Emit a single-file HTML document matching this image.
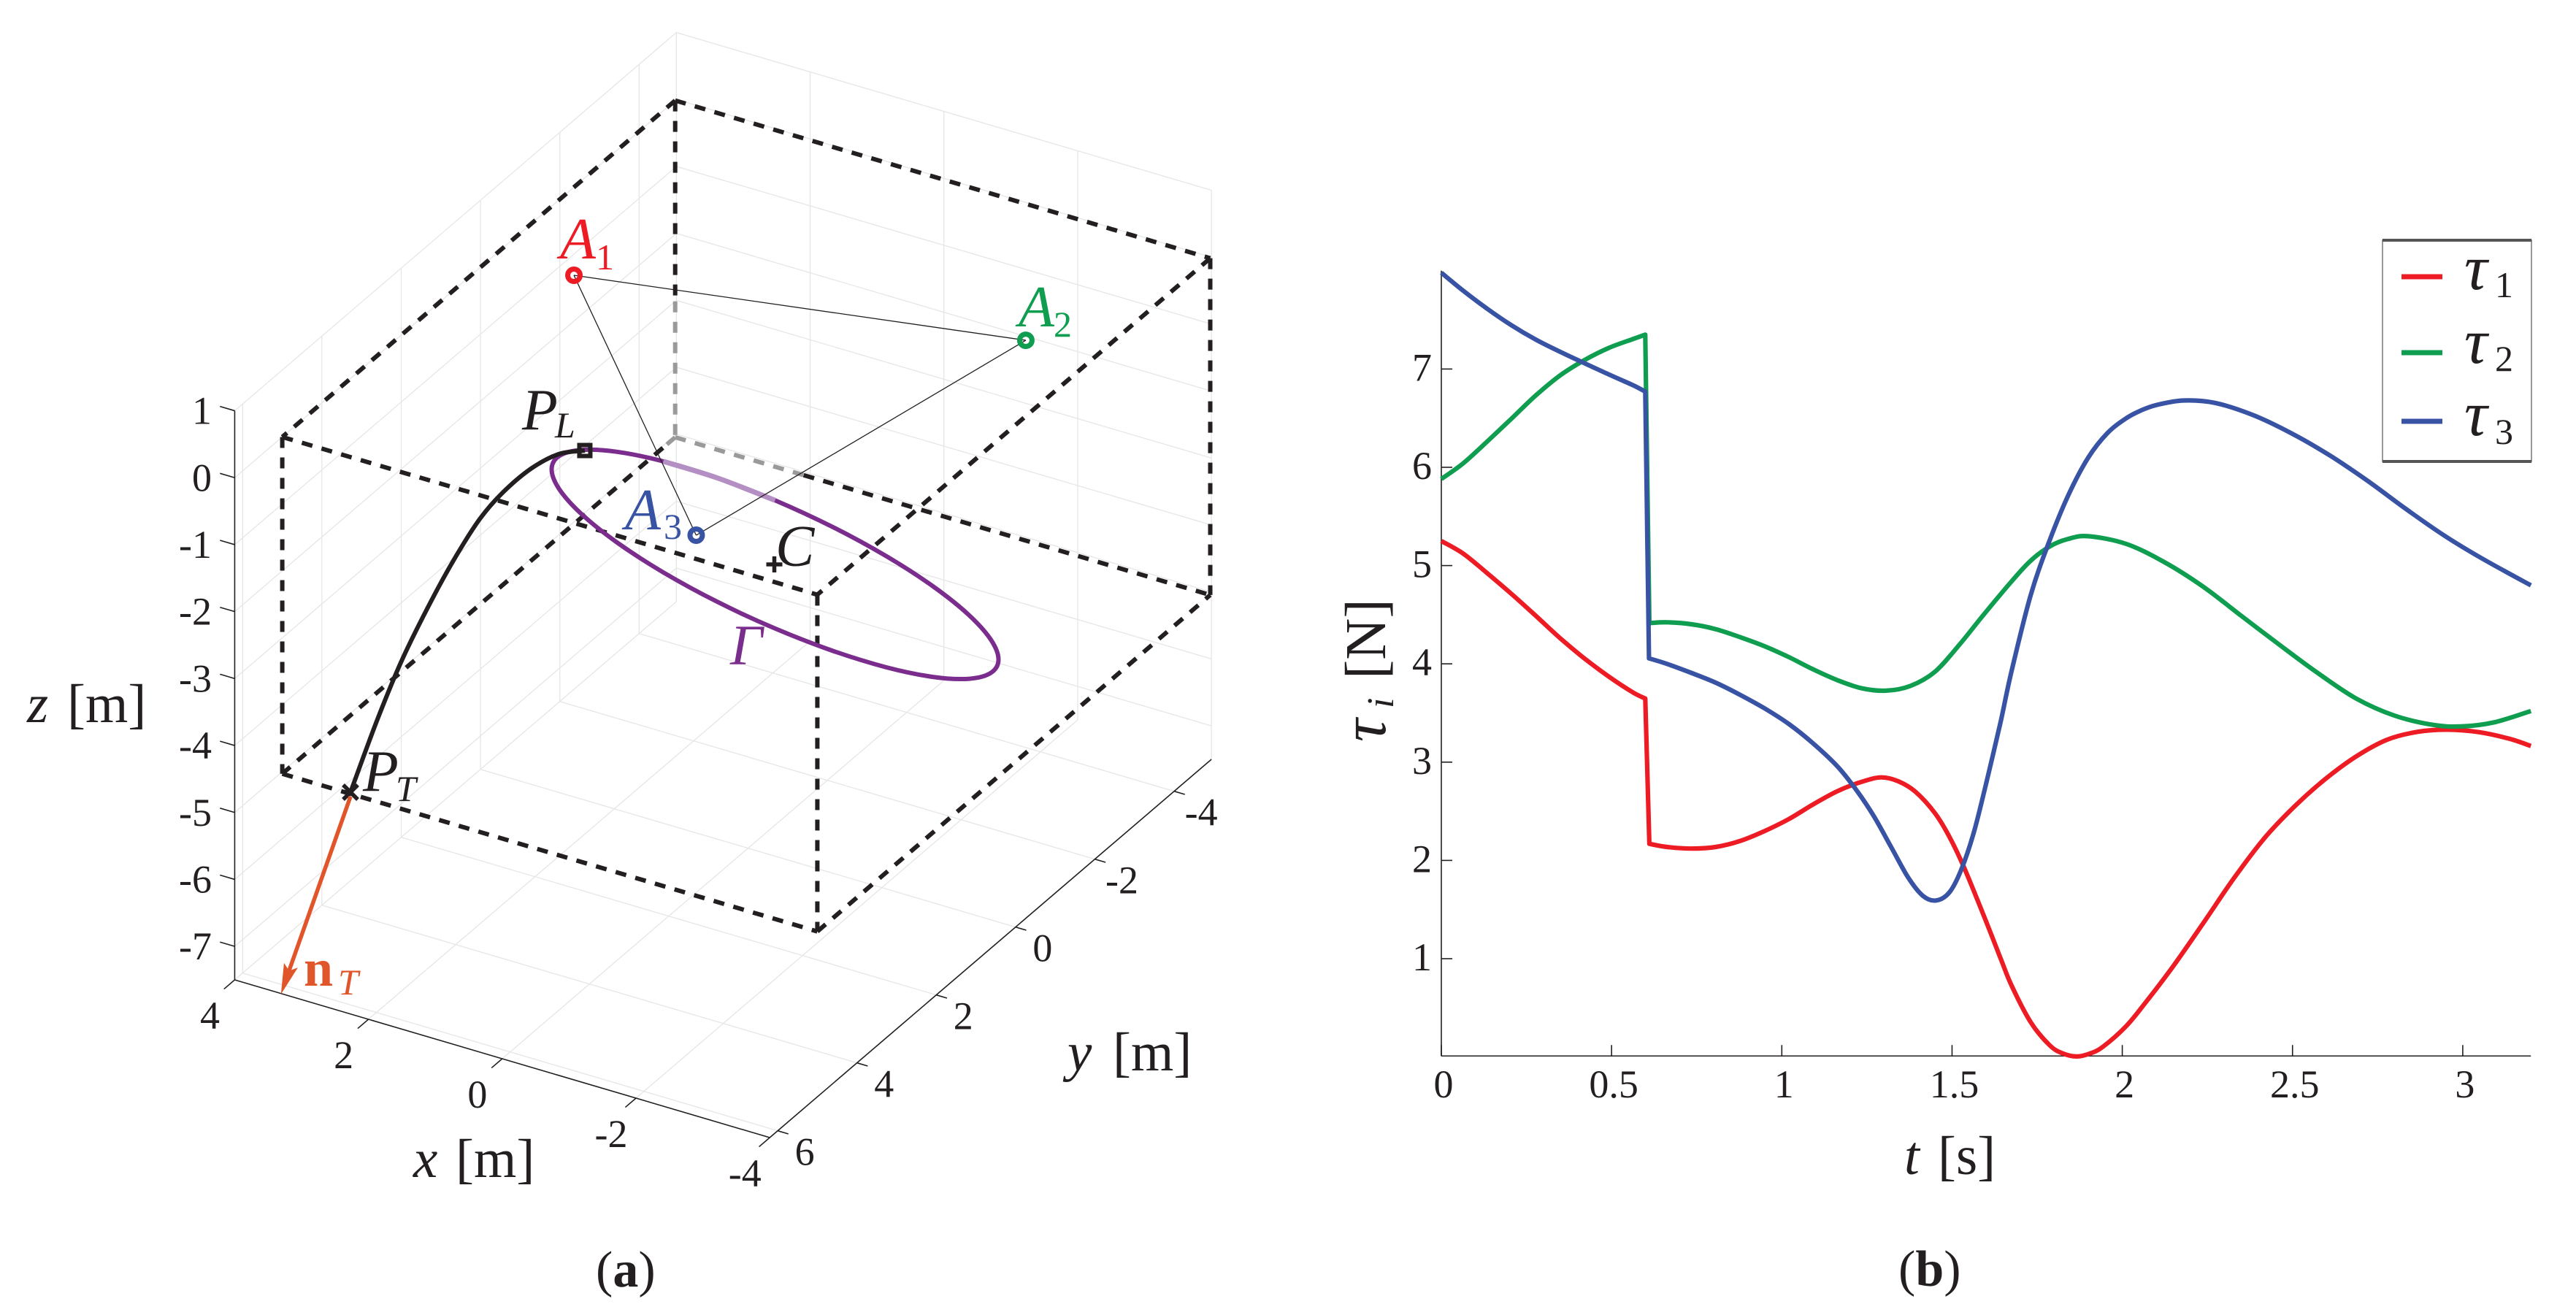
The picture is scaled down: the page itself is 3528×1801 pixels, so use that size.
<!DOCTYPE html>
<html lang="en">
<head>
<meta charset="utf-8">
<title>Trajectory and tensions</title>
<style>
html,body{margin:0;padding:0;background:#fff;}
svg{display:block;}
text{font-family:"Liberation Serif",serif;fill:#231f20;}
.it{font-style:italic;}
</style>
</head>
<body>
<svg id="figure" xmlns="http://www.w3.org/2000/svg" width="3528" height="1801" viewBox="0 0 3528 1801">
  <rect width="3528" height="1801" fill="#fff"/>
  <g id="panel-a">
    <g id="grid3d" stroke="#e6e6e6" stroke-width="1.3" fill="none"></g>
    <g id="axes3d" stroke="#231f20" stroke-width="1.6" fill="none"></g>
    <g id="ticklabels3d" font-size="54"></g>
    <g id="box3d" fill="none" stroke-width="6" stroke-dasharray="15 13"></g>
    <g id="marks3d"></g>

    <text font-size="75" x="37" y="989"><tspan class="it">z</tspan></text>
    <text font-size="75" x="92" y="989">[m]</text>
    <text font-size="75" x="566" y="1612"><tspan class="it">x</tspan></text>
    <text font-size="75" x="624" y="1612">[m]</text>
    <text font-size="75" x="1462" y="1466"><tspan class="it">y</tspan></text>
    <text font-size="75" x="1524" y="1466">[m]</text>

    <g>
      <text class="it" font-size="80" x="767" y="354" style="fill:#ed1c24">A</text>
      <text font-size="50" x="816" y="369" style="fill:#ed1c24">1</text>
    </g>
    <g>
      <text class="it" font-size="80" x="1395" y="447" style="fill:#0f9d4f">A</text>
      <text font-size="50" x="1443" y="461" style="fill:#0f9d4f">2</text>
    </g>
    <g>
      <text class="it" font-size="80" x="856" y="725" style="fill:#3953a4">A</text>
      <text font-size="50" x="909" y="738" style="fill:#3953a4">3</text>
    </g>
    <g>
      <text class="it" font-size="80" x="715" y="588">P</text>
      <text class="it" font-size="50" x="760" y="599">L</text>
    </g>
    <g>
      <text class="it" font-size="80" x="497" y="1083">P</text>
      <text class="it" font-size="50" x="542" y="1097">T</text>
    </g>
    <text class="it" font-size="80" x="1062" y="775">C</text>
    <text class="it" font-size="78" x="1000" y="910" style="fill:#7b2d8e">Γ</text>
    <g>
      <text font-weight="bold" font-size="72" x="416" y="1350" style="fill:#e0562a">n</text>
      <text class="it" font-size="50" x="463" y="1362" style="fill:#e0562a">T</text>
    </g>
    <g font-size="70">
      <text x="816" y="1762">(<tspan font-weight="bold">a</tspan>)</text>
    </g>
  </g>

  <g id="panel-b">
    <g id="axes2d" stroke="#231f20" stroke-width="1.6" fill="none"></g>
    <g id="ticklabels2d" font-size="54"></g>
    <g id="series2d" fill="none" stroke-width="6.2" stroke-linejoin="round"></g>

    <g>
      <text class="it" font-size="88" transform="translate(1897 1016) rotate(-90)">τ</text>
      <text class="it" font-size="52" transform="translate(1908 970) rotate(-90)">i</text>
      <text font-size="79" transform="translate(1897 930) rotate(-90)">[N]</text>
    </g>
    <text class="it" font-size="75" x="2608" y="1608">t</text>
    <text font-size="75" x="2654" y="1608">[s]</text>

    <g>
      <rect x="3263" y="329" width="204" height="303" fill="#fff" stroke="#777" stroke-width="1.5"/>
      <line x1="3263" y1="329" x2="3467" y2="329" stroke="#555" stroke-width="4"/>
      <line x1="3263" y1="632" x2="3467" y2="632" stroke="#555" stroke-width="4"/>
      <g>
        <line x1="3289" y1="379" x2="3345" y2="379" stroke="#ed1c24" stroke-width="7"/>
        <text class="it" font-size="88" x="3375" y="396">τ</text>
        <text font-size="50" x="3417" y="407">1</text>
      </g>
      <g>
        <line x1="3289" y1="483" x2="3345" y2="483" stroke="#0f9d4f" stroke-width="7"/>
        <text class="it" font-size="88" x="3375" y="497">τ</text>
        <text font-size="50" x="3417" y="508">2</text>
      </g>
      <g>
        <line x1="3289" y1="577" x2="3345" y2="577" stroke="#3953a4" stroke-width="7"/>
        <text class="it" font-size="88" x="3375" y="596">τ</text>
        <text font-size="50" x="3417" y="608">3</text>
      </g>
    </g>
    <g font-size="70">
      <text x="2600" y="1761">(<tspan font-weight="bold">b</tspan>)</text>
    </g>
  </g>
</svg>

<script>
// ---------- Panel (b) data ----------
const timeTicks = [0, 0.5, 1, 1.5, 2, 2.5, 3];
const timeTickLabels = ['0', '0.5', '1', '1.5', '2', '2.5', '3'];
const tauTicks = [1, 2, 3, 4, 5, 6, 7];
const tauLimits = [0.01, 8];
const timeLimits = [0, 3.2];

const tau1T = [0, 0.063, 0.134, 0.206, 0.277, 0.349, 0.42, 0.492, 0.563, 0.599, 0.611, 0.663, 0.735, 0.806, 0.878, 0.949, 1.021, 1.092, 1.164, 1.235, 1.292, 1.342, 1.392, 1.45, 1.493, 1.535, 1.593, 1.643, 1.675, 1.731, 1.787, 1.826, 1.866, 1.905, 1.944, 2.012, 2.068, 2.147, 2.237, 2.327, 2.417, 2.507, 2.597, 2.687, 2.777, 2.867, 2.957, 3.047, 3.137, 3.2];
const tau1V = [5.25, 5.125, 4.925, 4.712, 4.49, 4.261, 4.056, 3.87, 3.709, 3.647, 2.169, 2.137, 2.12, 2.137, 2.198, 2.298, 2.421, 2.57, 2.706, 2.80, 2.845, 2.805, 2.70, 2.48, 2.235, 1.93, 1.44, 1.0, 0.725, 0.354, 0.118, 0.035, 0.005, 0.035, 0.106, 0.316, 0.552, 0.911, 1.357, 1.815, 2.224, 2.553, 2.83, 3.058, 3.227, 3.308, 3.33, 3.305, 3.238, 3.164];

const tau2T = [0, 0.063, 0.134, 0.206, 0.277, 0.349, 0.42, 0.492, 0.563, 0.599, 0.611, 0.663, 0.735, 0.806, 0.878, 0.949, 1.021, 1.092, 1.164, 1.235, 1.307, 1.378, 1.45, 1.521, 1.593, 1.675, 1.731, 1.787, 1.84, 1.9, 2.012, 2.124, 2.237, 2.349, 2.462, 2.574, 2.687, 2.799, 2.912, 2.996, 3.092, 3.2];
const tau2V = [5.881, 6.037, 6.26, 6.495, 6.73, 6.935, 7.09, 7.215, 7.305, 7.35, 4.415, 4.423, 4.403, 4.353, 4.271, 4.18, 4.068, 3.944, 3.833, 3.751, 3.727, 3.776, 3.92, 4.192, 4.501, 4.84, 5.05, 5.195, 5.27, 5.299, 5.22, 5.034, 4.787, 4.49, 4.193, 3.907, 3.647, 3.474, 3.38, 3.363, 3.405, 3.52];

const tau3T = [0, 0.063, 0.134, 0.206, 0.277, 0.349, 0.42, 0.492, 0.563, 0.599, 0.61, 0.663, 0.735, 0.806, 0.878, 0.949, 1.021, 1.092, 1.164, 1.221, 1.271, 1.321, 1.371, 1.414, 1.453, 1.493, 1.528, 1.564, 1.6, 1.642, 1.675, 1.731, 1.787, 1.843, 1.9, 1.956, 2.012, 2.056, 2.102, 2.18, 2.271, 2.383, 2.496, 2.608, 2.72, 2.832, 2.945, 3.057, 3.2];
const tau3V = [7.98, 7.80, 7.615, 7.445, 7.30, 7.175, 7.06, 6.945, 6.835, 6.77, 4.056, 3.999, 3.907, 3.808, 3.684, 3.548, 3.387, 3.19, 2.954, 2.706, 2.446, 2.137, 1.827, 1.641, 1.592, 1.678, 1.914, 2.285, 2.781, 3.40, 3.93, 4.70, 5.26, 5.727, 6.099, 6.347, 6.50, 6.58, 6.635, 6.68, 6.656, 6.533, 6.347, 6.124, 5.864, 5.579, 5.307, 5.071, 4.799];

// ---------- Panel (a) data ----------
const xTicks3d = [4, 2, 0, -2, -4];
const yTicks3d = [-4, -2, 0, 2, 4, 6];
const zTicks3d = [1, 0, -1, -2, -3, -4, -5, -6, -7];
const xLimits3d = [-4, 4];
const yLimits3d = [-4.94, 6.2];
const zLimits3d = [-7.5, 1];

const boxX = [-4, 4];
const boxY = [-4.91, 5];
const boxZ = [-5.03, 0];
const boxHiddenZ = -3;
const boxHiddenX = 2.08;
const boxHiddenY = -4.6;

const anchor1 = [2.856, -0.426, 0];
const anchor2 = [-3.015, -1.92, 0];
const anchor3 = [-1.88, 4.48, 0];
const centerC = [-0.393, 0, -3.146];
const normalTip = [4.02, 5, -8.33];

const gammaY = 0;
const gammaX = [-3.745, -3.631, -3.297, -2.765, -2.074, -1.270, -0.404, 0.462, 1.267, 1.958, 2.489, 2.823, 2.937, 2.823, 2.489, 1.958, 1.267, 0.462, -0.404, -1.270, -2.074, -2.765, -3.297, -3.631];
const gammaZ = [-3.579, -3.812, -3.999, -4.128, -4.189, -4.179, -4.100, -3.955, -3.753, -3.511, -3.243, -2.968, -2.706, -2.473, -2.285, -2.156, -2.095, -2.105, -2.185, -2.330, -2.532, -2.774, -3.042, -3.317];
const gammaFadedRange = [16, 18];

const pathY = 3;
const pathX = [0.662, 1.055, 1.469, 1.895, 2.234, 2.583, 2.965, 3.402, 3.762, 4.166];
const pathZ = [-0.234, -0.404, -0.744, -1.230, -1.721, -2.369, -3.170, -4.182, -5.160, -6.369];

// ---------- helpers ----------
const NS = 'http://www.w3.org/2000/svg';
function make(tag, attrs, parent) {
  const el = document.createElementNS(NS, tag);
  for (const k in attrs) el.setAttribute(k, attrs[k]);
  parent.appendChild(el);
  return el;
}
// 3D axonometric projection: data (x,y,z) -> pixels
function px3(x, y, z) {
  return [1024.5 - 91.6 * x - 54.3 * y, 473.95 - 27 * x + 46.5 * y - 91.7 * z];
}
// 2D axis functions
function tx(t) { return 1974 + t * 466.3; }
function vy(v) { return 1447.6 - v * 134.6; }

function seg3(a, b, parent, extra) {
  const p = px3(a[0], a[1], a[2]);
  const q = px3(b[0], b[1], b[2]);
  return make('line', Object.assign({x1: p[0], y1: p[1], x2: q[0], y2: q[1]}, extra || {}), parent);
}
function f(n) { return n.toFixed(1); }
function smoothOpen(pts) {
  let d = '';
  for (let i = 0; i < pts.length - 1; i++) {
    const p0 = pts[Math.max(i - 1, 0)], p1 = pts[i], p2 = pts[i + 1], p3 = pts[Math.min(i + 2, pts.length - 1)];
    d += 'C' + f(p1[0] + (p2[0] - p0[0]) / 6) + ' ' + f(p1[1] + (p2[1] - p0[1]) / 6) + ' ' +
         f(p2[0] - (p3[0] - p1[0]) / 6) + ' ' + f(p2[1] - (p3[1] - p1[1]) / 6) + ' ' + f(p2[0]) + ' ' + f(p2[1]);
  }
  return d;
}
function smoothClosed(pts) {
  const n = pts.length;
  let d = 'M' + f(pts[0][0]) + ' ' + f(pts[0][1]);
  for (let i = 0; i < n; i++) {
    const p0 = pts[(i - 1 + n) % n], p1 = pts[i], p2 = pts[(i + 1) % n], p3 = pts[(i + 2) % n];
    d += 'C' + f(p1[0] + (p2[0] - p0[0]) / 6) + ' ' + f(p1[1] + (p2[1] - p0[1]) / 6) + ' ' +
         f(p2[0] - (p3[0] - p1[0]) / 6) + ' ' + f(p2[1] - (p3[1] - p1[1]) / 6) + ' ' + f(p2[0]) + ' ' + f(p2[1]);
  }
  return d + 'Z';
}
function tauPath(T, V) {
  let runs = [[]];
  for (let i = 0; i < T.length; i++) {
    if (i > 0 && T[i] - T[i - 1] < 0.02) runs.push([]);
    runs[runs.length - 1].push([tx(T[i]), vy(V[i])]);
  }
  let d = 'M' + f(runs[0][0][0]) + ' ' + f(runs[0][0][1]);
  runs.forEach(function (run, idx) {
    if (idx > 0) d += 'L' + f(run[0][0]) + ' ' + f(run[0][1]);
    d += smoothOpen(run);
  });
  return d;
}

// ---------- Panel (a): grid ----------
const grid = document.getElementById('grid3d');
const xMin = xLimits3d[0], xMax = xLimits3d[1];
const yMin = yLimits3d[0], yMax = yLimits3d[1];
const zMin = zLimits3d[0], zMax = zLimits3d[1];

xTicks3d.forEach(function (x) {
  const a = seg3([x, yMin, zMin], [x, yMax, zMin], grid);
  
  
  const b = seg3([x, yMin, zMin], [x, yMin, zMax], grid);
  
  
});
yTicks3d.forEach(function (y) {
  const a = seg3([xMin, y, zMin], [xMax, y, zMin], grid);
  
  
  const b = seg3([xMax, y, zMin], [xMax, y, zMax], grid);
  
  
});
zTicks3d.forEach(function (z) {
  const a = seg3([xMax, yMin, z], [xMax, yMax, z], grid);
  
  
  const b = seg3([xMin, yMin, z], [xMax, yMin, z], grid);
  
  
});

// ---------- Panel (a): axes ----------
const axes3 = document.getElementById('axes3d');
const labels3 = document.getElementById('ticklabels3d');
const zAxisLine = seg3([xMax, yMax, zMin], [xMax, yMax, zMax], axes3);


const xAxisLine = seg3([xMax, yMax, zMin], [xMin, yMax, zMin], axes3);


const yAxisLine = seg3([xMin, yMax, zMin], [xMin, yMin, zMin], axes3);



xTicks3d.forEach(function (x) {
  const t = seg3([x, yMax, zMin], [x, yMax + 0.27, zMin], axes3);
  
  
  const p = px3(x, yMax, zMin);
  const l = make('text', {x: p[0] - 34, y: p[1] + 67, 'text-anchor': 'middle'}, labels3);
  
  
  l.textContent = String(x);
});
yTicks3d.forEach(function (y) {
  const t = seg3([xMin, y, zMin], [xMin - 0.16, y, zMin], axes3);
  
  
  const p = px3(xMin, y, zMin);
  const l = make('text', {x: p[0] + 37, y: p[1] + 47, 'text-anchor': 'middle'}, labels3);
  
  
  l.textContent = String(y);
});
zTicks3d.forEach(function (z) {
  const t = seg3([xMax, yMax, z], [xMax + 0.22, yMax, z], axes3);
  
  
  const p = px3(xMax, yMax, z);
  const l = make('text', {x: 290, y: p[1] + 18, 'text-anchor': 'end'}, labels3);
  
  
  l.textContent = String(z);
});

// ---------- Panel (a): dashed box ----------
const box = document.getElementById('box3d');
const BX0 = boxX[0], BX1 = boxX[1], BY0 = boxY[0], BY1 = boxY[1], BZ0 = boxZ[0], BZ1 = boxZ[1];
const DARK = '#231f20', GREY = '#9a9a9a';
const boxEdges = [
  [[BX1, BY0, BZ1], [BX0, BY0, BZ1], DARK],
  [[BX1, BY0, BZ1], [BX1, BY1, BZ1], DARK],
  [[BX0, BY0, BZ1], [BX0, BY1, BZ1], DARK],
  [[BX1, BY1, BZ1], [BX0, BY1, BZ1], DARK],
  [[BX1, BY0, BZ1], [BX1, BY0, boxHiddenZ], DARK],
  [[BX1, BY0, boxHiddenZ], [BX1, BY0, BZ0], GREY],
  [[BX1, BY1, BZ1], [BX1, BY1, BZ0], DARK],
  [[BX0, BY1, BZ1], [BX0, BY1, BZ0], DARK],
  [[BX0, BY0, BZ1], [BX0, BY0, BZ0], DARK],
  [[BX1, BY0, BZ0], [boxHiddenX, BY0, BZ0], GREY],
  [[boxHiddenX, BY0, BZ0], [BX0, BY0, BZ0], DARK],
  [[BX1, BY0, BZ0], [BX1, boxHiddenY, BZ0], GREY],
  [[BX1, boxHiddenY, BZ0], [BX1, BY1, BZ0], DARK],
  [[BX1, BY1, BZ0], [BX0, BY1, BZ0], DARK],
  [[BX0, BY1, BZ0], [BX0, BY0, BZ0], DARK]
];
boxEdges.forEach(function (e) {
  const line = seg3(e[0], e[1], box, {stroke: e[2]});
  
  
});

// ---------- Panel (a): marks ----------
const marks = document.getElementById('marks3d');

const gammaPts = gammaX.map(function (x, i) { return px3(x, gammaY, gammaZ[i]); });
const gammaCurve = make('path', {d: smoothClosed(gammaPts), fill: 'none', stroke: '#7b2d8e', 'stroke-width': 6}, marks);



const fadedPts = gammaPts.slice(gammaFadedRange[0], gammaFadedRange[1] + 1);
const gammaFaded = make('path', {d: 'M' + f(fadedPts[0][0]) + ' ' + f(fadedPts[0][1]) + smoothOpen(fadedPts), fill: 'none', stroke: '#b48fc3', 'stroke-width': 7}, marks);



const pathPts = pathX.map(function (x, i) { return px3(x, pathY, pathZ[i]); });
const trajectory = make('path', {d: 'M' + f(pathPts[0][0]) + ' ' + f(pathPts[0][1]) + smoothOpen(pathPts), fill: 'none', stroke: '#231f20', 'stroke-width': 6}, marks);



[[anchor1, anchor2], [anchor2, anchor3], [anchor1, anchor3]].forEach(function (pair) {
  const cable = seg3(pair[0], pair[1], marks, {stroke: '#231f20', 'stroke-width': 1.3});
  
  
});

[[anchor1, '#ed1c24'], [anchor2, '#0f9d4f'], [anchor3, '#3953a4']].forEach(function (a) {
  const p = px3(a[0][0], a[0][1], a[0][2]);
  const ring = make('circle', {cx: p[0], cy: p[1], r: 8.5, fill: 'none', stroke: a[1], 'stroke-width': 7}, marks);
  
  
});

const pL = pathPts[0];
const pT = pathPts[pathPts.length - 1];
const squareMark = make('rect', {x: pL[0] - 7.5, y: pL[1] - 7.5, width: 15, height: 15, fill: 'none', stroke: '#231f20', 'stroke-width': 6}, marks);



const crossMark = make('path', {d: 'M' + (pT[0] - 10) + ' ' + (pT[1] - 10) + 'L' + (pT[0] + 10) + ' ' + (pT[1] + 10) + 'M' + (pT[0] - 10) + ' ' + (pT[1] + 10) + 'L' + (pT[0] + 10) + ' ' + (pT[1] - 10), fill: 'none', stroke: '#231f20', 'stroke-width': 5.5}, marks);



const cPx = px3(centerC[0], centerC[1], centerC[2]);
const plusMark = make('path', {d: 'M' + (cPx[0] - 11) + ' ' + cPx[1] + 'L' + (cPx[0] + 11) + ' ' + cPx[1] + 'M' + cPx[0] + ' ' + (cPx[1] - 11) + 'L' + cPx[0] + ' ' + (cPx[1] + 11), fill: 'none', stroke: '#231f20', 'stroke-width': 5.5}, marks);



// normal arrow
const tipPx = px3(normalTip[0], normalTip[1], normalTip[2]);
const dirX = tipPx[0] - pT[0], dirY = tipPx[1] - pT[1];
const dirLen = Math.hypot(dirX, dirY);
const ux = dirX / dirLen, uy = dirY / dirLen;
const backX = tipPx[0] - ux * 34, backY = tipPx[1] - uy * 34;
const arrowLine = make('line', {x1: pT[0], y1: pT[1] + 6, x2: backX, y2: backY, stroke: '#e0562a', 'stroke-width': 5.5}, marks);


const wingX = tipPx[0] - ux * 42, wingY = tipPx[1] - uy * 42;
const arrowHead = make('polygon', {points: [tipPx[0], tipPx[1], wingX - uy * 10, wingY + ux * 10, backX, backY, wingX + uy * 10, wingY - ux * 10].join(' '), fill: '#e0562a'}, marks);



// ---------- Panel (b): axes ----------
const axes2 = document.getElementById('axes2d');
const labels2 = document.getElementById('ticklabels2d');
const bottomAxis = make('line', {x1: tx(timeLimits[0]), y1: vy(tauLimits[0]), x2: tx(timeLimits[1]), y2: vy(tauLimits[0])}, axes2);


const leftAxis = make('line', {x1: tx(timeLimits[0]), y1: vy(tauLimits[0]), x2: tx(timeLimits[0]), y2: vy(tauLimits[1])}, axes2);



timeTicks.forEach(function (t, i) {
  const mark = make('line', {x1: tx(t), y1: vy(tauLimits[0]), x2: tx(t), y2: vy(tauLimits[0]) - 15}, axes2);
  
  
  const lab = make('text', {x: tx(t) + 3, y: 1503, 'text-anchor': 'middle'}, labels2);
  
  
  lab.textContent = timeTickLabels[i];
});
tauTicks.forEach(function (v) {
  const mark = make('line', {x1: tx(0), y1: vy(v), x2: tx(0) + 15, y2: vy(v)}, axes2);
  
  
  const lab = make('text', {x: 1961, y: vy(v) + 16, 'text-anchor': 'end'}, labels2);
  
  
  lab.textContent = String(v);
});

// ---------- Panel (b): series ----------
const series2 = document.getElementById('series2d');
const line1 = make('path', {d: tauPath(tau1T, tau1V), stroke: '#ed1c24'}, series2);


const line2 = make('path', {d: tauPath(tau2T, tau2V), stroke: '#0f9d4f'}, series2);


const line3 = make('path', {d: tauPath(tau3T, tau3V), stroke: '#3953a4'}, series2);


</script>
</body>
</html>
